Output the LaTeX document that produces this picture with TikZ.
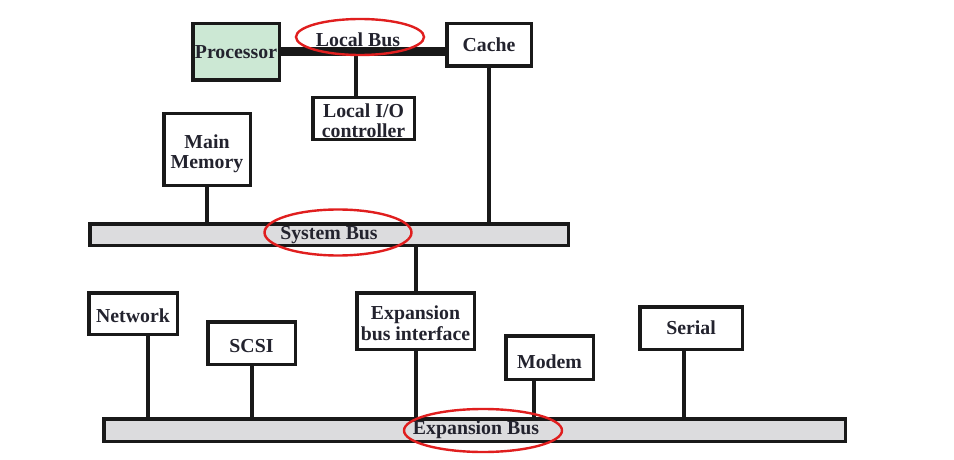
\documentclass[tikz,border=0pt]{standalone}
\usepackage{fontspec}
\setmainfont{Liberation Serif}
\usetikzlibrary{shapes.geometric}
\definecolor{procgreen}{HTML}{CCE8D4}
\definecolor{busgray}{HTML}{DCDCDE}
\definecolor{txt}{HTML}{23232E}
\definecolor{mark}{HTML}{E01E1E}
\newcommand{\twoline}[2]{\raisebox{-5pt}[\height][\depth]{\begin{tabular}{@{}c@{}}#1\\[0.5pt]#2\end{tabular}}}
\newcommand{\lowerby}[2]{\raisebox{-#1}[\height][\depth]{#2}}
\begin{document}
\begin{tikzpicture}[x=1pt,y=-1pt,
  box/.style={draw=black!90,line width=3.5pt,fill=white,inner sep=0pt,align=center,
    font=\fontsize{19.8}{20}\selectfont\bfseries,text=txt},
  bus/.style={draw=black!90,line width=3.5pt,fill=busgray,inner sep=0pt,
    font=\fontsize{19.8}{20}\selectfont\bfseries,text=txt},
  wire/.style={line width=4pt,draw=black!90},
  lbus/.style={line width=9pt,draw=black!90},
  ring/.style={ellipse,draw=mark,line width=2.4pt,inner sep=0pt},
  lbl/.style={inner sep=0pt,font=\fontsize{19.8}{20}\selectfont\bfseries,text=txt}]
\useasboundingbox (0,0) rectangle (954,460);
% top level
\node[box,fill=procgreen,minimum width=86.5pt,minimum height=56.5pt] (proc) at (236,52) {Processor};
\node[box,minimum width=84.5pt,minimum height=42.5pt] (cache) at (489,45) {Cache};
\node[box,minimum width=101.5pt,minimum height=41.5pt] (lio) at (363.5,118.5) {\twoline{Local I/O}{controller}};
\node[box,minimum width=86.5pt,minimum height=71.5pt] (mm) at (207,149.5) {\twoline{Main}{Memory}};
% local bus
\draw[lbus] (proc.east) -- (proc.east -| cache.west);
\node[lbl] (lbtext) at (358,40) {Local Bus};
\draw[wire] ([xshift=-7.5pt]lio.north) -- ([xshift=-7.5pt]lio.north |- proc.east);
% system bus
\node[bus,minimum width=478.5pt,minimum height=21.5pt] (sysbus) at (329,234.5) {};
\node[lbl] (sbtext) at (329,235) {System Bus};
\draw[wire] (cache.south) -- (cache.south |- sysbus.north);
\draw[wire] (mm.south) -- (mm.south |- sysbus.north);
% expansion level
\node[box,minimum width=117.5pt,minimum height=56.5pt] (expif) at (415.5,321) {\twoline{Expansion}{bus interface}};
\node[box,minimum width=88.5pt,minimum height=41.5pt] (net) at (133,313.5) {\lowerby{2pt}{Network}};
\node[box,minimum width=87.5pt,minimum height=42.5pt] (scsi) at (251.5,343) {\lowerby{3pt}{SCSI}};
\node[box,minimum width=87.5pt,minimum height=43.5pt] (modem) at (549.5,357.5) {\lowerby{4pt}{Modem}};
\node[box,minimum width=102.5pt,minimum height=42.5pt] (serial) at (691,328) {Serial};
\node[bus,minimum width=741.5pt,minimum height=22.5pt] (expbus) at (474.5,430) {};
\node[lbl] (ebtext) at (476,430) {Expansion Bus};
\draw[wire] (expif.north) -- (expif.north |- sysbus.south);
\draw[wire] (expif.south) -- (expif.south |- expbus.north);
\draw[wire] ([xshift=15pt]net.south) -- ([xshift=15pt]net.south |- expbus.north);
\draw[wire] (scsi.south) -- (scsi.south |- expbus.north);
\draw[wire] ([xshift=-15.5pt]modem.south) -- ([xshift=-15.5pt]modem.south |- expbus.north);
\draw[wire] ([xshift=-7pt]serial.south) -- ([xshift=-7pt]serial.south |- expbus.north);
% red highlight ellipses
\node[ring,minimum width=128pt,minimum height=36pt] (r1) at (360,37) {};
\node[ring,minimum width=147pt,minimum height=46pt] (r2) at (338,232.5) {};
\node[ring,minimum width=158pt,minimum height=43pt] (r3) at (483,430.5) {};
\end{tikzpicture}
\end{document}
